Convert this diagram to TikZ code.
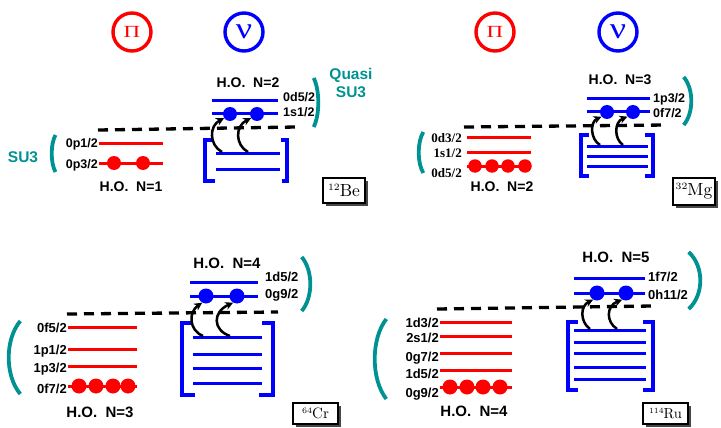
\documentclass[tikz,border=0pt]{standalone}
\usepackage{fontspec}
\newfontfamily\hv{Liberation Sans}
\newfontfamily\tm{Liberation Serif}
\usetikzlibrary{arrows.meta}
\definecolor{tealc}{RGB}{0,146,146}
\definecolor{myred}{RGB}{255,0,0}
\definecolor{myblue}{RGB}{0,0,255}
\newcommand\tparen[4]{\draw[paren] (#1,#3) .. controls ({#1+(#2-#1)*4/3},{#3+(#4-#3)/4}) and ({#1+(#2-#1)*4/3},{#4-(#4-#3)/4}) .. (#1,#4);}
\newcommand\nucl[3]{\scalebox{#3}{\fontsize{10}{10}\selectfont\raisebox{3.4pt}{\fontsize{5.5}{5.5}\selectfont #1}#2}}
\begin{document}
\begin{tikzpicture}[x=1pt,y=-1pt,
  rl/.style={draw=myred,line width=3pt},
  bl/.style={draw=myblue,line width=3pt},
  brk/.style={draw=myblue,line width=3.3pt},
  rdot/.style={circle,fill=myred,inner sep=0pt,minimum size=#1},
  rdot/.default=14pt,
  bdot/.style={circle,fill=myblue,inner sep=0pt,minimum size=#1},
  bdot/.default=14pt,
  lab/.style={font=\hv\bfseries\fontsize{12.5}{13}\selectfont,inner sep=0pt},
  labB/.style={font=\hv\bfseries\fontsize{13}{14}\selectfont,inner sep=0pt},
  labT/.style={font=\tm\bfseries\fontsize{13}{14}\selectfont,inner sep=0pt},
  ho/.style={font=\hv\bfseries\fontsize{14}{15}\selectfont,inner sep=0pt},
  hoB/.style={font=\hv\bfseries\fontsize{15}{16}\selectfont,inner sep=0pt},
  fermi/.style={line width=3.3pt,dash pattern=on 10pt off 7pt},
  paren/.style={draw=tealc,line width=3.8pt},
  tlab/.style={text=tealc,font=\hv\bfseries\fontsize{15.5}{18}\selectfont,inner sep=0pt,align=center},
  exc/.style={-{Stealth[length=8pt,width=8pt]},line width=2.5pt},
  nuc/.style={draw,line width=1.6pt,fill=white,inner sep=0pt},
  shad/.style={fill=black!72,inner sep=0pt},
  pcirc/.style={circle,draw=myred,text=myred,line width=3.4pt,minimum size=38pt,inner sep=0pt},
  ncirc/.style={circle,draw=myblue,text=myblue,line width=3.4pt,minimum size=38pt,inner sep=0pt},
]
\useasboundingbox (0,0) rectangle (721,428);

% ================= Panel 1: 12Be =================
\node[pcirc] (pi1) at (132,32) {\scalebox{1.35}[1]{\tm\fontsize{17}{17}\selectfont Π}};
\node[ncirc] (nu1) at (244,32) {\scalebox{1.2}[1]{\tm\fontsize{30}{30}\selectfont ν}};
% protons
\draw[rl] (99,143) -- (163,143);
\draw[rl] (99,163) -- (163,163);
\node[rdot] (r1a) at (114,163) {};
\node[rdot] (r1b) at (143,163) {};
\node[lab,anchor=east] (l1a) at (98,144) {0p1/2};
\node[lab,anchor=east] (l1b) at (98,165) {0p3/2};
\node[ho] (ho1a) at (131,187) {H.O.~~N=1};
% neutrons
\draw[bl] (212,101) -- (278,101);
\draw[bl] (212,114) -- (278,114);
\node[bdot] (b1a) at (230,114) {};
\node[bdot] (b1b) at (257,114) {};
\node[lab,anchor=west] (l1c) at (283,97) {0d5/2};
\node[lab,anchor=west] (l1d) at (283,112) {1s1/2};
\node[ho] (ho1b) at (248,83) {H.O.~~N=2};
\draw[brk] (213,140) -- (205,140) -- (205,181) -- (215,181);
\draw[brk] (281,140) -- (287,140) -- (287,181) -- (282,181);
\draw[bl] (216,153) -- (280,153);
\draw[bl] (216,169) -- (280,169);
\coordinate (s1a) at (222,152);
\coordinate (s1b) at (248,152);
\draw[exc] (s1a) .. controls (209,145) and (209,126) .. (b1a.215);
\draw[exc] (s1b) .. controls (235,145) and (235,126) .. (b1b.215);
\draw[fermi] (98,130) -- (297,127);
\tparen{55.5}{51.7}{135}{172}
\tparen{313.7}{318.3}{78}{127}
\node[tlab] (su1) at (23,157) {SU3};
\node[tlab] (qsu1) at (351,83) {Quasi\\SU3};
\node[shad,minimum width=42pt,minimum height=25pt] (besh) at (347,193.5) {};
\node[nuc,minimum width=42pt,minimum height=25pt] (be) at (344,190.5) {\nucl{12}{Be}{1.75}};

% ================= Panel 2: 32Mg =================
\node[pcirc] (pi2) at (495,32) {\scalebox{1.35}[1]{\tm\fontsize{17}{17}\selectfont Π}};
\node[ncirc] (nu2) at (618,32) {\scalebox{1.2}[1]{\tm\fontsize{30}{30}\selectfont ν}};
\draw[rl] (467,137) -- (531,137);
\draw[rl] (467,152) -- (531,152);
\draw[rl] (467,166) -- (531,166);
\node[rdot=13.5pt] (r2a) at (475,166) {};
\node[rdot=13.5pt] (r2b) at (492,166) {};
\node[rdot=13.5pt] (r2c) at (508,166) {};
\node[rdot=13.5pt] (r2d) at (525,166) {};
\node[labT,anchor=east] (l2a) at (462,138) {0d3/2};
\node[labT,anchor=east] (l2b) at (462,153) {1s1/2};
\node[labT,anchor=east] (l2c) at (462,173) {0d5/2};
\node[ho] (ho2a) at (502,187) {H.O.~~N=2};
\draw[bl] (587,99) -- (650,99);
\draw[bl] (587,112) -- (650,112);
\node[bdot] (b2a) at (607,112) {};
\node[bdot] (b2b) at (633,112) {};
\node[lab,anchor=west] (l2d) at (653,99) {1p3/2};
\node[lab,anchor=west] (l2e) at (653,113) {0f7/2};
\node[ho] (ho2b) at (620,80) {H.O.~~N=3};
\draw[brk] (589,135) -- (581,135) -- (581,176) -- (589,176);
\draw[brk] (645,135) -- (653,135) -- (653,176) -- (645,176);
\draw[bl] (587,146) -- (648,146);
\draw[bl] (587,156) -- (648,156);
\draw[bl] (587,166) -- (648,166);
\coordinate (s2a) at (600,145);
\coordinate (s2b) at (623,145);
\draw[exc] (s2a) .. controls (590,139) and (590,122) .. (b2a.220);
\draw[exc] (s2b) .. controls (614,139) and (614,122) .. (b2b.220);
\draw[fermi] (464,127) -- (667,125);
\tparen{423.3}{418.7}{132}{173}
\tparen{683.7}{691.3}{77}{125}
\node[shad,minimum width=42pt,minimum height=27pt] (mgsh) at (697,194.5) {};
\node[nuc,minimum width=42pt,minimum height=27pt] (mg) at (694,191.5) {\nucl{32}{Mg}{1.75}};

% ================= Panel 3: 64Cr =================
\draw[rl] (68,327) -- (137,327);
\draw[rl] (68,349) -- (137,349);
\draw[rl] (68,366) -- (137,366);
\draw[rl] (68,386) -- (137,386);
\node[rdot=15pt] (r3a) at (79,386) {};
\node[rdot=15pt] (r3b) at (96,386) {};
\node[rdot=15pt] (r3c) at (113,386) {};
\node[rdot=15pt] (r3d) at (128,386) {};
\node[labB,anchor=east] (l3a) at (67,328) {0f5/2};
\node[labB,anchor=east] (l3b) at (67,351) {1p1/2};
\node[labB,anchor=east] (l3c) at (67,369) {1p3/2};
\node[labB,anchor=east] (l3d) at (67,389) {0f7/2};
\node[hoB] (ho3a) at (100,412) {H.O.~~N=3};
\draw[bl] (190,282) -- (258,282);
\draw[bl] (190,296) -- (258,296);
\node[bdot=15pt] (b3a) at (206,296) {};
\node[bdot=15pt] (b3b) at (237,296) {};
\node[labB,anchor=west] (l3e) at (265,277) {1d5/2};
\node[labB,anchor=west] (l3f) at (265,295) {0g9/2};
\node[hoB] (ho3b) at (227,263) {H.O.~~N=4};
\draw[brk] (193,323) -- (182,323) -- (182,395) -- (195,395);
\draw[brk] (262,323) -- (273,323) -- (273,395) -- (259,395);
\draw[bl] (193,337) -- (262,337);
\draw[bl] (193,354) -- (262,354);
\draw[bl] (193,368) -- (262,368);
\draw[bl] (193,383) -- (262,383);
\coordinate (s3a) at (203,336);
\coordinate (s3b) at (230,336);
\draw[exc] (s3a) .. controls (188.5,330) and (188.5,312) .. (b3a.240);
\draw[exc] (s3b) .. controls (212.5,330) and (212.5,312) .. (b3b.240);
\draw[fermi] (67,314) -- (278,312);
\tparen{20.3}{8.7}{321}{394}
\tparen{301.7}{310.3}{257}{311}
\node[shad,minimum width=45pt,minimum height=21pt] (crsh) at (318.5,416.5) {};
\node[nuc,minimum width=45pt,minimum height=21pt] (cr) at (315.5,413.5) {\nucl{64}{Cr}{1.5}};

% ================= Panel 4: 114Ru =================
\draw[rl] (440,322) -- (512,322);
\draw[rl] (440,336) -- (512,336);
\draw[rl] (440,353) -- (512,353);
\draw[rl] (440,370) -- (512,370);
\draw[rl] (440,387) -- (512,387);
\node[rdot=15pt] (r4a) at (450,387) {};
\node[rdot=15pt] (r4b) at (467,387) {};
\node[rdot=15pt] (r4c) at (483,387) {};
\node[rdot=15pt] (r4d) at (500,387) {};
\node[labB,anchor=east] (l4a) at (439,323) {1d3/2};
\node[labB,anchor=east] (l4b) at (439,338) {2s1/2};
\node[labB,anchor=east] (l4c) at (439,358) {0g7/2};
\node[labB,anchor=east] (l4d) at (439,374) {1d5/2};
\node[labB,anchor=east] (l4e) at (439,394) {0g9/2};
\node[hoB] (ho4a) at (474,411) {H.O.~~N=4};
\draw[bl] (574,278) -- (645,278);
\draw[bl] (574,293) -- (645,293);
\node[bdot=15pt] (b4a) at (597,293) {};
\node[bdot=15pt] (b4b) at (626,293) {};
\node[labB,anchor=west] (l4f) at (648,277) {1f7/2};
\node[labB,anchor=west] (l4g) at (648,295) {0h11/2};
\node[hoB] (ho4b) at (616,257) {H.O.~~N=5};
\draw[brk] (578,322) -- (568,322) -- (568,390) -- (578,390);
\draw[brk] (643,322) -- (653,322) -- (653,390) -- (643,390);
\draw[bl] (574,330) -- (646,330);
\draw[bl] (574,342) -- (646,342);
\draw[bl] (574,353) -- (646,353);
\draw[bl] (574,367) -- (646,367);
\draw[bl] (574,379) -- (646,379);
\coordinate (s4a) at (590,329);
\coordinate (s4b) at (617,329);
\draw[exc] (s4a) .. controls (580,322) and (580,306) .. (b4a.240);
\draw[exc] (s4b) .. controls (606,322) and (606,306) .. (b4b.240);
\draw[fermi] (437,309) -- (653,306);
\tparen{386.3}{374.7}{319}{399}
\tparen{688.7}{700.3}{252}{309}
\node[shad,minimum width=45pt,minimum height=21pt] (rush) at (668.5,416.5) {};
\node[nuc,minimum width=45pt,minimum height=21pt] (ru) at (665.5,413.5) {\nucl{114}{Ru}{1.45}};
\end{tikzpicture}
\end{document}
